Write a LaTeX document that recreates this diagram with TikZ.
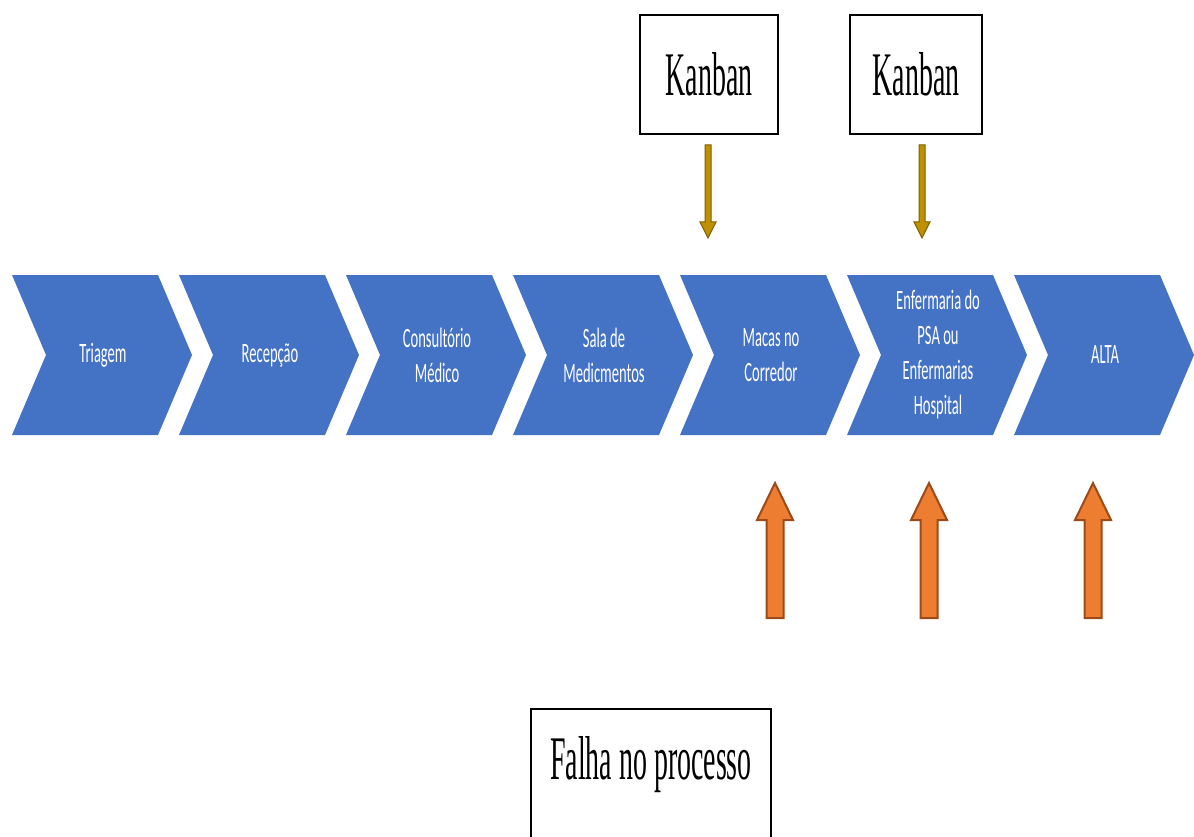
\documentclass[tikz,border=0pt]{standalone}
\usepackage{fontspec}
\setmainfont{Liberation Serif}
\newfontfamily\stagefont[FakeStretch=0.52]{Carlito}
\newfontfamily\boxfont[FakeStretch=0.45]{Liberation Serif}
\usetikzlibrary{positioning,calc}
\definecolor{stageblue}{HTML}{4472C4}
\definecolor{kanbangold}{HTML}{BF9000}
\definecolor{kanbandark}{HTML}{7F6000}
\definecolor{failorange}{HTML}{ED7D31}
\definecolor{faildark}{HTML}{9C4A17}
\tikzset{
  stage/.style={text=white, align=center, font=\stagefont\fontsize{28}{35}\selectfont},
  labelbox/.style={draw, line width=1.3pt, font=\boxfont\fontsize{62}{70}\selectfont},
  goldarrow/.style={fill=kanbangold, draw=kanbandark, line width=1pt},
  orangearrow/.style={fill=failorange, draw=faildark, line width=2pt},
}

\begin{document}
\begin{tikzpicture}[x=1pt, y=-1pt]
    \useasboundingbox (0,0) rectangle (1194,837);

    % process chevrons
    \foreach \i/\name/\txt in {0/tria/Triagem, 1/rece/Recepção, 2/cons/{Consultório\\Médico},
        3/sala/{Sala de\\Medicmentos}, 4/maca/{Macas no\\Corredor},
        5/enfe/{Enfermaria do\\PSA ou\\Enfermarias\\Hospital}, 6/alta/ALTA} {
        \pgfmathsetmacro\x{12+167*\i}
        \fill[stageblue] (\x,275) -- ++(146,0) -- ++(34,80) -- ++(-34,80) -- ++(-146,0) -- ++(34,-80) -- cycle;
        \node[stage] (\name) at (\x+91,355) {\txt};
    }

    % kanban boxes
    \node[labelbox, minimum width=138, minimum height=119] (kanban1) at (709,74.5) {Kanban};
    \node[labelbox, minimum width=132, minimum height=119] (kanban2) at (916,74.5) {Kanban};

    \foreach \x in {708, 922}
        \draw[goldarrow] (\x-3,145) -- (\x+3,145) -- (\x+3,222) -- (\x+8,222) -- (\x,238)
            -- (\x-8,222) -- (\x-3,222) -- cycle;

    % failure arrows
    \foreach \x in {775, 929, 1093}
        \draw[orangearrow] (\x-8.5,618) -- (\x-8.5,520) -- (\x-18,520) -- (\x,483)
            -- (\x+18,520) -- (\x+8.5,520) -- (\x+8.5,618) -- cycle;

    % failure box, cut at the bottom
    \node[font=\boxfont\fontsize{62}{70}\selectfont] (falha) at (651,765) {Falha no processo};
    \draw[line width=1.3pt] (531,845) |- (771,709) -- (771,845);
\end{tikzpicture}
\end{document}
